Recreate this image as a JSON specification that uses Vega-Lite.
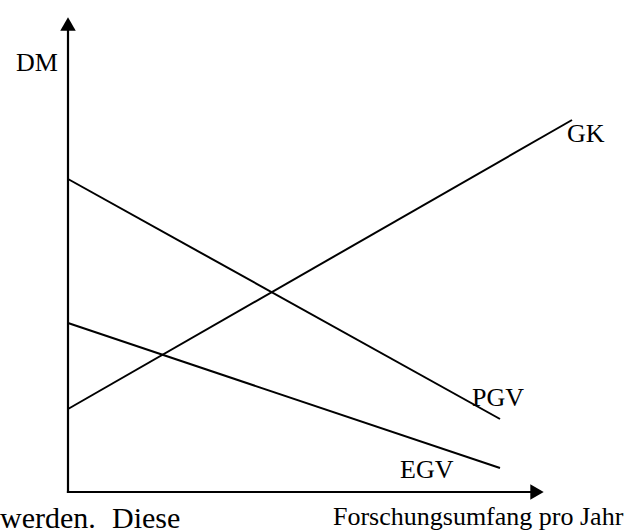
{
  "$schema": "https://vega.github.io/schema/vega-lite/v6.json",
  "width": 641,
  "height": 531,
  "autosize": "none",
  "padding": 0,
  "background": "white",
  "config": {"view": {"stroke": null}},
  "datasets": {
    "curves": [
      {"curve": "GK", "x": 0, "y": 83},
      {"curve": "GK", "x": 504, "y": 372},
      {"curve": "PGV", "x": 0, "y": 313},
      {"curve": "PGV", "x": 432, "y": 73},
      {"curve": "EGV", "x": 0, "y": 169},
      {"curve": "EGV", "x": 432, "y": 24}
    ],
    "axes": [
      {"axis": "DM", "x": 0, "y": 0},
      {"axis": "DM", "x": 0, "y": 468},
      {"axis": "Forschungsumfang", "x": 0, "y": 0},
      {"axis": "Forschungsumfang", "x": 470, "y": 0}
    ],
    "arrows": [
      {"axis": "DM", "x": 0, "y": 468, "shape": "triangle-up"},
      {"axis": "Forschungsumfang", "x": 469, "y": 0, "shape": "triangle-right"}
    ],
    "labels": [
      {"label": "DM", "x": -52, "y": 421},
      {"label": "GK", "x": 499, "y": 350},
      {"label": "PGV", "x": 404, "y": 86},
      {"label": "EGV", "x": 332, "y": 14},
      {"label": "Forschungsumfang pro Jahr", "x": 265, "y": -33}
    ],
    "bodytext": [
      {"label": "werden.", "x": -68, "y": -35.5},
      {"label": "Diese", "x": 44, "y": -35.5}
    ]
  },
  "layer": [
    {
      "data": {"name": "axes"},
      "mark": {"type": "line", "color": "black", "strokeWidth": 2.2, "strokeCap": "square"},
      "encoding": {
        "x": {"field": "x", "type": "quantitative", "scale": {"domain": [-68, 573]}, "axis": null},
        "y": {"field": "y", "type": "quantitative", "scale": {"domain": [-39, 492]}, "axis": null},
        "detail": {"field": "axis"}
      }
    },
    {
      "data": {"name": "arrows"},
      "mark": {"type": "point", "filled": true, "color": "black", "opacity": 1, "size": 240, "strokeWidth": 0},
      "encoding": {
        "x": {"field": "x", "type": "quantitative", "scale": {"domain": [-68, 573]}, "axis": null},
        "y": {"field": "y", "type": "quantitative", "scale": {"domain": [-39, 492]}, "axis": null},
        "shape": {"field": "shape", "type": "nominal", "scale": null, "legend": null}
      }
    },
    {
      "data": {"name": "curves"},
      "mark": {"type": "line", "color": "black", "strokeWidth": 2},
      "encoding": {
        "x": {"field": "x", "type": "quantitative", "scale": {"domain": [-68, 573]}, "axis": null},
        "y": {"field": "y", "type": "quantitative", "scale": {"domain": [-39, 492]}, "axis": null},
        "detail": {"field": "curve"}
      }
    },
    {
      "data": {"name": "labels"},
      "mark": {"type": "text", "align": "left", "baseline": "alphabetic", "font": "Liberation Serif", "fontSize": 26, "color": "black"},
      "encoding": {
        "x": {"field": "x", "type": "quantitative", "scale": {"domain": [-68, 573]}, "axis": null},
        "y": {"field": "y", "type": "quantitative", "scale": {"domain": [-39, 492]}, "axis": null},
        "text": {"field": "label"}
      }
    },
    {
      "data": {"name": "bodytext"},
      "mark": {"type": "text", "align": "left", "baseline": "alphabetic", "font": "Liberation Serif", "fontSize": 30, "color": "black"},
      "encoding": {
        "x": {"field": "x", "type": "quantitative", "scale": {"domain": [-68, 573]}, "axis": null},
        "y": {"field": "y", "type": "quantitative", "scale": {"domain": [-39, 492]}, "axis": null},
        "text": {"field": "label"}
      }
    }
  ]
}
